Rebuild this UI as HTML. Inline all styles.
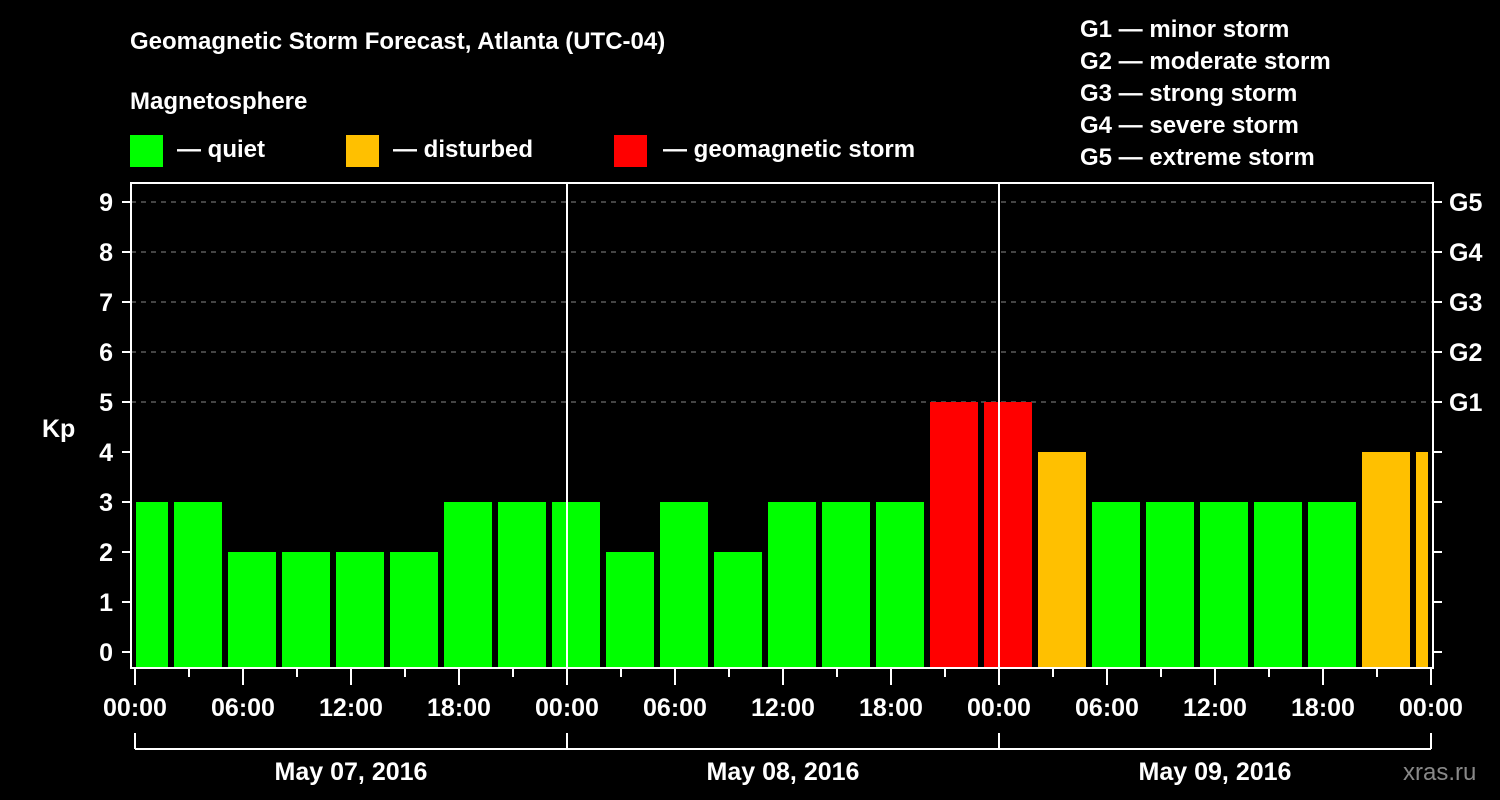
<!DOCTYPE html>
<html><head><meta charset="utf-8"><style>
html,body{margin:0;padding:0;background:#000;}
svg{display:block;font-family:"Liberation Sans",Arial,sans-serif;font-weight:bold;}
</style></head><body>
<svg id="chart" width="1500" height="800" viewBox="0 0 1500 800">
<rect width="1500" height="800" fill="#000"/>
<text x="130" y="49" font-size="24" fill="#fff">Geomagnetic Storm Forecast, Atlanta (UTC-04)</text>
<text x="130" y="109" font-size="24" fill="#fff">Magnetosphere</text>
<g><rect x="130" y="135" width="33" height="32" fill="#00ff00"/><text x="177" y="157" font-size="24" fill="#fff">— quiet</text></g>
<g><rect x="346" y="135" width="33" height="32" fill="#ffc000"/><text x="393" y="157" font-size="24" fill="#fff">— disturbed</text></g>
<g><rect x="614" y="135" width="33" height="32" fill="#ff0000"/><text x="663" y="157" font-size="24" fill="#fff">— geomagnetic storm</text></g>
<g font-size="24" fill="#fff">
<text x="1080" y="37">G1 — minor storm</text>
<text x="1080" y="69">G2 — moderate storm</text>
<text x="1080" y="101">G3 — strong storm</text>
<text x="1080" y="133">G4 — severe storm</text>
<text x="1080" y="165">G5 — extreme storm</text>
</g>
<text x="42" y="437" font-size="25" fill="#fff">Kp</text>
<text x="1403" y="780" font-size="24" fill="#888" font-weight="normal">xras.ru</text>
<g id="grid"></g><g id="bars"></g><g id="axes"></g>
</svg>
<script>
const kpValues=[3,3,2,2,2,2,3,3,3,2,3,2,3,3,3,5,5,4,3,3,3,3,3,4,4];
const barHours=[0.5,3.5,6.5,9.5,12.5,15.5,18.5,21.5,24.5,27.5,30.5,33.5,36.5,39.5,42.5,45.5,48.5,51.5,54.5,57.5,60.5,63.5,66.5,69.5,72.5];
const yTicks=[0,1,2,3,4,5,6,7,8,9];
const gLabels=["G1","G2","G3","G4","G5"];
const timeLabels=["00:00","06:00","12:00","18:00","00:00","06:00","12:00","18:00","00:00","06:00","12:00","18:00","00:00"];
const dayLabels=["May 07, 2016","May 08, 2016","May 09, 2016"];
const NS="http://www.w3.org/2000/svg";
const X0=135,PXH=18,Y0=652,PXK=50,LEFT=131,RIGHT=1433,TOP=183,BOT=668;
const xs=h=>X0+h*PXH, ys=k=>Y0-k*PXK;
function mk(tag,attrs,parent){const e=document.createElementNS(NS,tag);for(const k in attrs)e.setAttribute(k,attrs[k]);parent.appendChild(e);return e;}
const grid=document.getElementById('grid'),bars=document.getElementById('bars'),axes=document.getElementById('axes');
yTicks.forEach(k=>{
 if(k>=5){const l=mk('line',{x1:LEFT,x2:RIGHT,y1:ys(k),y2:ys(k),stroke:'#888','stroke-width':1,'stroke-dasharray':'5,5'},grid);
 
 }
 const t=mk('line',{x1:122,x2:LEFT,y1:ys(k),y2:ys(k),stroke:'#fff','stroke-width':2},axes);
 
 
 const t2=mk('line',{x1:RIGHT,x2:1442,y1:ys(k),y2:ys(k),stroke:'#fff','stroke-width':2},axes);
 
 
 const tx=mk('text',{x:113,y:ys(k)+9,'font-size':25,fill:'#fff','text-anchor':'end'},axes);tx.textContent=k;
 
 
});
gLabels.forEach((g,i)=>{const tx=mk('text',{x:1449,y:ys(5+i)+9,'font-size':25,fill:'#fff'},axes);tx.textContent=g;
 
 });
kpValues.forEach((v,i)=>{
 const c=barHours[i];let x1=xs(c)-24,x2=xs(c)+24;x1=Math.max(x1,136);x2=Math.min(x2,1428);
 const col=v>=5?'#ff0000':(v>=4?'#ffc000':'#00ff00');
 const r=mk('rect',{x:x1,y:ys(v),width:x2-x1,height:667-ys(v),fill:col},bars);
 
 
});
[24,48].forEach(h=>{const l=mk('line',{x1:xs(h),x2:xs(h),y1:TOP,y2:BOT,stroke:'#fff','stroke-width':2},axes);
 
 });
const fr=mk('rect',{x:LEFT,y:TOP,width:RIGHT-LEFT,height:BOT-TOP,fill:'none',stroke:'#fff','stroke-width':2},axes);


for(let h=0;h<=72;h+=3){const major=h%6===0;
 const l=mk('line',{x1:xs(h),x2:xs(h),y1:BOT,y2:major?685:677,stroke:'#fff','stroke-width':2},axes);
 
 }
timeLabels.forEach((s,i)=>{const tx=mk('text',{x:xs(i*6),y:716,'font-size':25,fill:'#fff','text-anchor':'middle'},axes);tx.textContent=s;
 
 });
const br=mk('path',{d:'',stroke:'#fff','stroke-width':2,fill:'none'},axes);
let d='M'+xs(0)+' 749H'+xs(72);[0,24,48,72].forEach(h=>{d+=' M'+xs(h)+' 733V749';});br.setAttribute('d',d);


dayLabels.forEach((s,i)=>{const tx=mk('text',{x:xs(i*24+12),y:780,'font-size':25,fill:'#fff','text-anchor':'middle'},axes);tx.textContent=s;
 
 });
</script>
</body></html>
